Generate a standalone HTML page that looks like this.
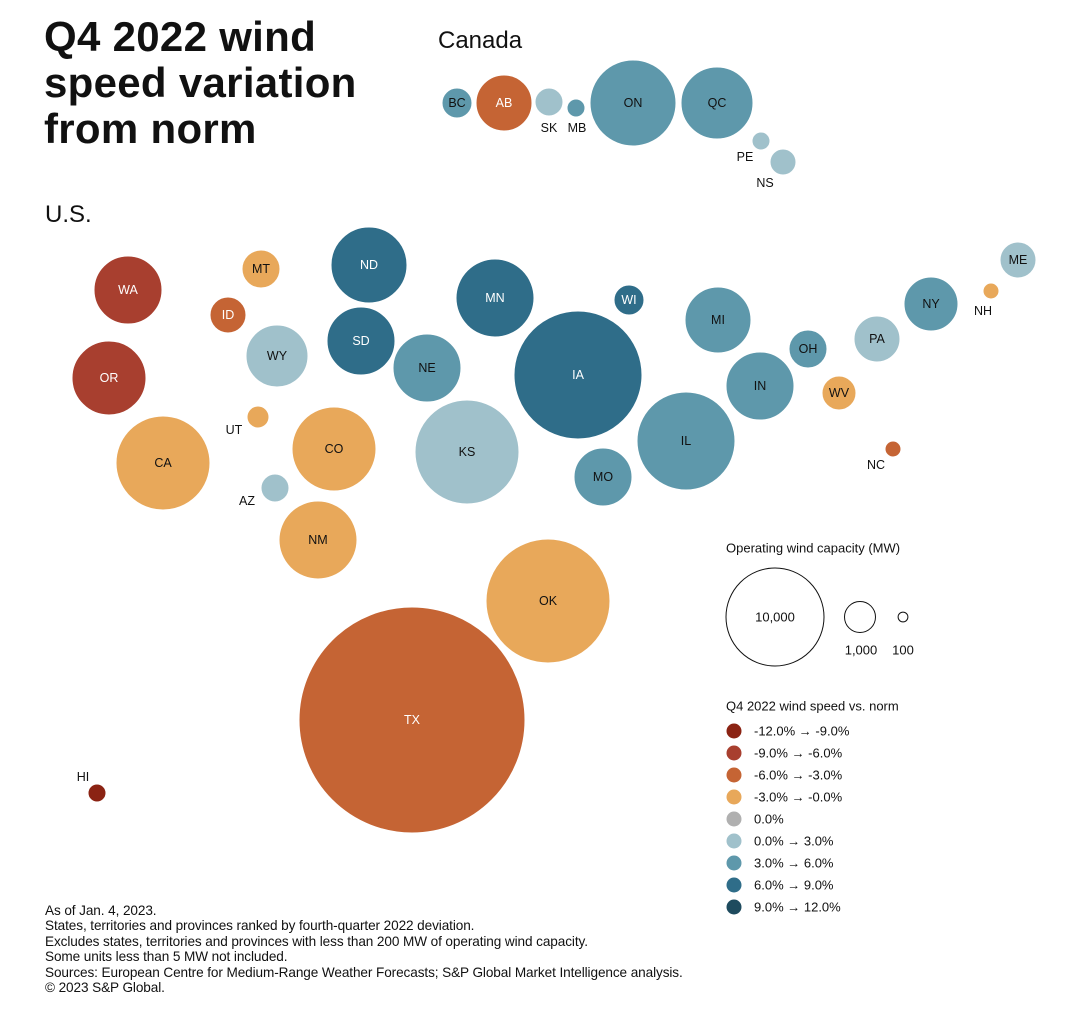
<!DOCTYPE html>
<html><head><meta charset="utf-8">
<style>
body{margin:0;background:#fff;font-family:"Liberation Sans",sans-serif;}
#wrap{position:relative;width:1092px;height:1018px;overflow:hidden;}
.t{position:absolute;color:#111;}
</style></head><body>
<div id="wrap">
<div class="t" style="left:44px;top:14px;font-size:42px;font-weight:bold;line-height:46px;letter-spacing:0.3px;">Q4 2022 wind<br>speed variation<br>from norm</div>
<div class="t" style="left:438px;top:27px;font-size:24px;">Canada</div>
<div class="t" style="left:45px;top:201px;font-size:24px;">U.S.</div>
<div class="t" style="left:45px;top:903px;font-size:13.6px;line-height:15.4px;letter-spacing:-0.1px;">As of Jan. 4, 2023.<br>States, territories and provinces ranked by fourth-quarter 2022 deviation.<br>Excludes states, territories and provinces with less than 200 MW of operating wind capacity.<br>Some units less than 5 MW not included.<br>Sources: European Centre for Medium-Range Weather Forecasts; S&amp;P Global Market Intelligence analysis.<br>© 2023 S&amp;P Global.</div>
<svg id="svg" width="1092" height="1018" style="position:absolute;left:0;top:0"></svg>
</div>
<script>
// data
const names=["BC","AB","SK","MB","ON","QC","PE","NS","WA","MT","ND","MN","WI","ID","WY","SD","NE","IA","MI","OH","PA","NY","ME","NH","WV","IN","OR","UT","CO","KS","MO","IL","NC","CA","AZ","NM","OK","TX","HI"];
const capacityMW=[900,3136,784,324,7396,5184,324,676,4624,1444,5776,6084,900,1296,3844,4624,4624,16384,4356,1444,2116,2916,1296,256,1156,4624,5476,484,7056,10816,3364,9604,256,8836,784,6084,15376,51076,324];
const category=[6,2,5,6,6,6,5,5,1,3,7,7,7,2,5,7,6,7,6,6,5,6,5,3,3,6,1,3,3,5,6,6,2,3,5,3,3,2,0];
const posX=[457,504,549,576,633,717,761,783,128,261,369,495,629,228,277,361,427,578,718,808,877,931,1018,991,839,760,109,258,334,467,603,686,893,163,275,318,548,412,97];
const posY=[103,103,102,108,103,103,141,162,290,269,265,298,300,315,356,341,368,375,320,349,339,304,260,291,393,386,378,417,449,452,477,441,449,463,488,540,601,720,793];
const outsideLabel={SK:[549,128],MB:[577,128],PE:[745,157],NS:[765,183],NH:[983,311],UT:[234,430],NC:[876,465],AZ:[247,501],HI:[83,777]};
const catLabels=["-12.0% \u2192 -9.0%","-9.0% \u2192 -6.0%","-6.0% \u2192 -3.0%","-3.0% \u2192 -0.0%","0.0%","0.0% \u2192 3.0%","3.0% \u2192 6.0%","6.0% \u2192 9.0%","9.0% \u2192 12.0%"];
const catColors=["#8b2313","#a83f2f","#c56434","#e8a85a","#b0b0b0","#a0c1cb","#5e98ab","#2f6d89","#1e4b5e"];
const whiteText=[0,1,2,7,8];
const sizeLegend=[10000,1000,100];
const sizeLegendLabels=["10,000","1,000","100"];

const svg=document.getElementById('svg');
const NS='http://www.w3.org/2000/svg';
const rScale=v=>0.5*Math.sqrt(v);
function mk(tag,attrs){const e=document.createElementNS(NS,tag);for(const k in attrs)e.setAttribute(k,attrs[k]);svg.appendChild(e);return e;}
function txt(x,y,s,size,fill,anchor){const e=mk('text',{x:x,y:y,'font-size':size,fill:fill,'text-anchor':anchor||'middle','dominant-baseline':'central','font-family':'Liberation Sans, sans-serif'});e.textContent=s;return e;}

names.forEach((n,i)=>{
  const c=mk('circle',{cx:posX[i],cy:posY[i],r:rScale(capacityMW[i]),fill:catColors[category[i]],stroke:'#fff','stroke-width':1});
  
  
  let t;
  if(outsideLabel[n]) t=txt(outsideLabel[n][0],outsideLabel[n][1],n,12.5,'#111');
  else t=txt(posX[i],posY[i],n,12.5,whiteText.includes(category[i])?'#fff':'#111');
  
  
});

// size legend
let st=txt(726,548,"Operating wind capacity (MW)",13,'#111','start');


const slX=[775,860,903];
const centerY=617;
sizeLegend.forEach((v,i)=>{
  const r=rScale(v)*0.98;
  const c=mk('circle',{cx:slX[i],cy:centerY,r:r,fill:'none',stroke:'#111','stroke-width':1});
  
  
  let t;
  if(i===0) t=txt(slX[i],centerY,sizeLegendLabels[i],13,'#111');
  else t=txt(slX[i]+(i===1?1:0),650,sizeLegendLabels[i],13,'#111');
  
  
});

// color legend
let ct=txt(726,706,"Q4 2022 wind speed vs. norm",13,'#111','start');


catLabels.forEach((l,i)=>{
  const y=731+i*22;
  const c=mk('circle',{cx:734,cy:y,r:7.5,fill:catColors[i]});
  
  
  const t=txt(754,y,l,13,'#111','start');
  
  
});
</script>
</body></html>
